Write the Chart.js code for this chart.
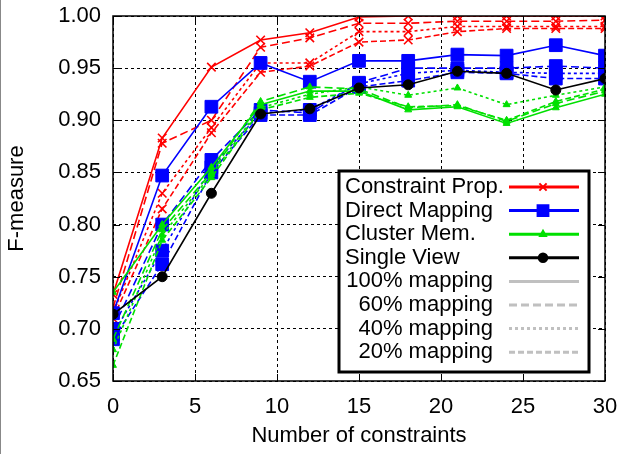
<!DOCTYPE html>
<html>
<head>
<meta charset="utf-8">
<script src="https://cdn.jsdelivr.net/npm/chart.js@4/dist/chart.umd.min.js"></script>
<style>
  html, body { margin: 0; padding: 0; background: #fff; }
  #wrap { position: relative; width: 626px; height: 454px; border-left: 1px solid #888; box-sizing: border-box; }
</style>
</head>
<body>
<div id="wrap"><canvas id="chart" width="625" height="454"></canvas></div>
<script>
const constraints = [0, 3, 6, 9, 12, 15, 18, 21, 24, 27, 30];

// Constraint Prop. at 100/60/40/20% mapping
const cp100 = [0.733, 0.883, 0.951, 0.977, 0.984, 0.999, 1.000, 1.000, 1.000, 1.000, 1.000];
const cp60  = [0.720, 0.878, 0.900, 0.970, 0.979, 0.993, 0.993, 0.995, 0.995, 0.995, 0.996];
const cp40  = [0.715, 0.830, 0.893, 0.955, 0.955, 0.985, 0.985, 0.990, 0.990, 0.990, 0.990];
const cp20  = [0.710, 0.815, 0.888, 0.946, 0.952, 0.975, 0.977, 0.985, 0.988, 0.988, 0.988];

// Direct Mapping
const dm100 = [0.715, 0.847, 0.913, 0.955, 0.937, 0.957, 0.957, 0.963, 0.962, 0.972, 0.962];
const dm60  = [0.700, 0.800, 0.862, 0.910, 0.907, 0.936, 0.950, 0.950, 0.950, 0.952, 0.950];
const dm40  = [0.695, 0.775, 0.855, 0.907, 0.910, 0.935, 0.945, 0.948, 0.946, 0.945, 0.945];
const dm20  = [0.690, 0.762, 0.850, 0.905, 0.905, 0.932, 0.938, 0.946, 0.945, 0.940, 0.940];

// Cluster Mem.
const cm100 = [0.735, 0.800, 0.855, 0.915, 0.928, 0.928, 0.910, 0.913, 0.897, 0.912, 0.925];
const cm60  = [0.690, 0.795, 0.850, 0.918, 0.932, 0.930, 0.912, 0.915, 0.899, 0.916, 0.928];
const cm40  = [0.680, 0.790, 0.848, 0.912, 0.925, 0.932, 0.924, 0.931, 0.915, 0.924, 0.932];
const cm20  = [0.665, 0.785, 0.845, 0.910, 0.922, 0.926, 0.913, 0.914, 0.900, 0.918, 0.930];

// Single View
const sv = [0.714, 0.750, 0.830, 0.906, 0.911, 0.931, 0.934, 0.947, 0.945, 0.929, 0.940];

const yTicks = [0.65, 0.70, 0.75, 0.80, 0.85, 0.90, 0.95, 1.00];
const xTicks = [0, 5, 10, 15, 20, 25, 30];

const FONT = "'Liberation Sans', Arial, sans-serif";
const dashes = { 100: [], 60: [8, 4], 40: [3, 3], 20: [6, 3] };

function series(label, vals, color, style, pct, order) {
  return {
    label: label,
    data: vals.map((v, i) => ({ x: constraints[i], y: v })),
    borderColor: color,
    backgroundColor: color,
    borderWidth: 1.6,
    borderDash: dashes[pct],
    pointStyle: style.shape,
    pointRadius: style.r,
    pointBorderWidth: style.bw,
    pointBorderColor: color,
    pointBackgroundColor: color,
    tension: 0,
    order: order
  };
}

const RED = "#ff0000", BLUE = "#0000ff", GREEN = "#00e000", BLACK = "#000000";
const sCross = { shape: "crossRot", r: 6, bw: 1.6 };
const sRect = { shape: "rect", r: 9, bw: 1 };
const sTri = { shape: "triangle", r: 4, bw: 1 };
const sCirc = { shape: "circle", r: 5, bw: 1 };

const datasets = [
  series("Constraint Prop.", cp100, RED, sCross, 100, 3),
  series("cp60", cp60, RED, sCross, 60, 3),
  series("cp40", cp40, RED, sCross, 40, 3),
  series("cp20", cp20, RED, sCross, 20, 3),
  series("Direct Mapping", dm100, BLUE, sRect, 100, 2),
  series("dm60", dm60, BLUE, sRect, 60, 2),
  series("dm40", dm40, BLUE, sRect, 40, 2),
  series("dm20", dm20, BLUE, sRect, 20, 2),
  series("Cluster Mem.", cm100, GREEN, sTri, 100, 1),
  series("cm60", cm60, GREEN, sTri, 60, 1),
  series("cm40", cm40, GREEN, sTri, 40, 1),
  series("cm20", cm20, GREEN, sTri, 20, 1),
  series("Single View", sv, BLACK, sCirc, 100, 0)
];

const legendRows = [
  { text: "Constraint Prop.", color: RED, style: sCross, dash: [] },
  { text: "Direct Mapping", color: BLUE, style: sRect, dash: [] },
  { text: "Cluster Mem.", color: GREEN, style: sTri, dash: [] },
  { text: "Single View", color: BLACK, style: sCirc, dash: [] },
  { text: "100% mapping", color: "#c0c0c0", dash: dashes[100], right: true },
  { text: "60% mapping", color: "#c0c0c0", dash: dashes[60], right: true },
  { text: "40% mapping", color: "#c0c0c0", dash: dashes[40], right: true },
  { text: "20% mapping", color: "#c0c0c0", dash: dashes[20], right: true }
];

const framePlugin = {
  id: "frame",
  afterDatasetsDraw(chart) {
    const ctx = chart.ctx, a = chart.chartArea;
    const xs = chart.scales.x, ys = chart.scales.y;
    ctx.save();
    ctx.strokeStyle = "#000";
    ctx.lineWidth = 1;
    ctx.setLineDash([]);
    ctx.beginPath();
    xTicks.forEach(t => {
      const px = Math.round(xs.getPixelForValue(t)) + 0.5;
      ctx.moveTo(px, a.bottom); ctx.lineTo(px, a.bottom - 7);
      ctx.moveTo(px, a.top); ctx.lineTo(px, a.top + 7);
    });
    yTicks.forEach(t => {
      const py = Math.round(ys.getPixelForValue(t)) + 0.5;
      ctx.moveTo(a.left, py); ctx.lineTo(a.left + 7, py);
      ctx.moveTo(a.right, py); ctx.lineTo(a.right - 7, py);
    });
    ctx.stroke();
    ctx.lineWidth = 1.5;
    ctx.strokeRect(a.left, a.top, a.right - a.left, a.bottom - a.top);

    // key box
    const bx = 338, by = 171, bw = 250, bh = 201;
    ctx.fillStyle = "#fff";
    ctx.fillRect(bx, by, bw, bh);
    ctx.lineWidth = 3;
    ctx.strokeRect(bx, by, bw, bh);
    ctx.font = "22px " + FONT;
    ctx.textBaseline = "middle";
    legendRows.forEach((row, i) => {
      const y = 187 + i * 23.6;
      ctx.fillStyle = "#000";
      if (row.right) {
        ctx.textAlign = "right";
        ctx.fillText(row.text, 492, y);
      } else {
        ctx.textAlign = "left";
        ctx.fillText(row.text, 344, y);
      }
      ctx.strokeStyle = row.color;
      ctx.lineWidth = 3;
      ctx.setLineDash(row.dash);
      ctx.beginPath();
      ctx.moveTo(508, y); ctx.lineTo(578, y);
      ctx.stroke();
      ctx.setLineDash([]);
      if (row.style) {
        ctx.fillStyle = row.color;
        ctx.strokeStyle = row.color;
        ctx.lineWidth = 2;
        Chart.helpers.drawPoint(ctx, {
          pointStyle: row.style.shape, radius: row.style.r * 0.85, borderWidth: 2, rotation: 0
        }, 542, y);
      }
    });
    ctx.restore();
  }
};

new Chart(document.getElementById("chart"), {
  type: "line",
  data: { datasets: datasets },
  options: {
    responsive: false,
    animation: false,
    layout: { padding: { top: 16, right: 21, left: 0, bottom: 0 } },
    plugins: { legend: { display: false }, tooltip: { enabled: false } },
    scales: {
      x: {
        type: "linear",
        min: 0, max: 30,
        afterBuildTicks: s => { s.ticks = xTicks.map(v => ({ value: v })); },
        afterFit: s => { s.height = 73; s.paddingLeft = 0; s.paddingRight = 0; },
        ticks: { color: "#000", font: { family: FONT, size: 22 }, padding: 13, maxRotation: 0 },
        grid: { color: "#000", lineWidth: 1, drawTicks: false },
        border: { display: false, dash: [3, 3] },
        title: {
          display: true, text: "Number of constraints", color: "#000",
          font: { family: FONT, size: 22 }, padding: { top: 0, bottom: 5 }
        }
      },
      y: {
        min: 0.65, max: 1.0,
        afterBuildTicks: s => { s.ticks = yTicks.map(v => ({ value: v })); },
        afterFit: s => { s.width = 112; s.paddingTop = 0; s.paddingBottom = 0; },
        ticks: { color: "#000", font: { family: FONT, size: 22 }, padding: 12, callback: v => v.toFixed(2) },
        grid: { color: "#000", lineWidth: 1, drawTicks: false },
        border: { display: false, dash: [3, 3] },
        title: {
          display: true, text: "F-measure", color: "#000",
          font: { family: FONT, size: 22 }, padding: { top: 3, bottom: 0 }
        }
      }
    }
  },
  plugins: [framePlugin]
});
</script>
</body>
</html>
